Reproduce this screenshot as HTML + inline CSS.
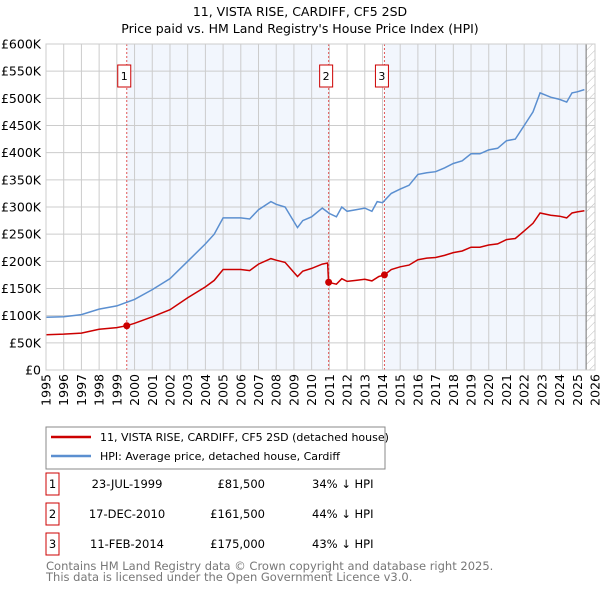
<!DOCTYPE html>
<html><head><meta charset="utf-8"><style>
body{margin:0;background:#fff;font-family:"Liberation Sans","DejaVu Sans",sans-serif;}
svg text{font-family:"DejaVu Sans","Liberation Sans",sans-serif;}
</style></head><body>
<svg id="chart" width="600" height="590" xmlns="http://www.w3.org/2000/svg">
<text x="300" y="16" text-anchor="middle" font-size="12.5">11, VISTA RISE, CARDIFF, CF5 2SD</text>
<text x="300" y="33" text-anchor="middle" font-size="12.5">Price paid vs. HM Land Registry's House Price Index (HPI)</text>
<g id="plot"></g>
<g>
<rect x="46" y="427" width="339" height="42" fill="#fff" stroke="#888"/>
<line x1="51" y1="437" x2="91" y2="437" stroke="#cc0000" stroke-width="2.5"/>
<text x="100" y="441" font-size="11">11, VISTA RISE, CARDIFF, CF5 2SD (detached house)</text>
<line x1="51" y1="456" x2="91" y2="456" stroke="#5b8fd0" stroke-width="2.5"/>
<text x="100" y="460" font-size="11">HPI: Average price, detached house, Cardiff</text>
</g>
<g id="table" font-size="11.5"></g>
<text x="46" y="570" font-size="11.5" fill="#777">Contains HM Land Registry data © Crown copyright and database right 2025.</text>
<text x="46" y="581" font-size="11.5" fill="#777">This data is licensed under the Open Government Licence v3.0.</text>
</svg>
<script>
const hpiYears=[1995,1996,1997,1998,1999,2000,2001,2002,2003,2004,2004.5,2005,2006,2006.5,2007,2007.7,2008,2008.5,2009.2,2009.5,2010,2010.6,2011,2011.4,2011.7,2012,2012.5,2013,2013.4,2013.7,2014,2014.5,2015,2015.5,2016,2016.5,2017,2017.5,2018,2018.5,2019,2019.5,2020,2020.5,2021,2021.5,2022,2022.5,2022.9,2023.5,2024,2024.4,2024.7,2025,2025.4];
const hpiValues=[97,98,102,112,118,130,148,168,200,232,250,280,280,278,295,310,305,300,262,275,282,298,288,282,300,292,295,298,292,310,308,325,333,340,360,363,365,372,380,385,398,398,405,408,422,425,450,475,510,502,498,493,510,512,516];
const redYears=[1995,1996,1997,1998,1999,1999.56,2000,2001,2002,2003,2004,2004.5,2005,2006,2006.5,2007,2007.7,2008,2008.5,2009.2,2009.5,2010,2010.6,2010.9,2010.96,2011.4,2011.7,2012,2012.5,2013,2013.4,2013.8,2014.11,2014.5,2015,2015.5,2016,2016.5,2017,2017.5,2018,2018.5,2019,2019.5,2020,2020.5,2021,2021.5,2022,2022.5,2022.9,2023.5,2024,2024.4,2024.7,2025,2025.4];
const redValues=[65,66,68,75,78,81.5,86,98,111,133,153,165,185,185,183,195,205,202,198,172,182,187,195,197,161.5,158,168,163,165,167,164,172,175,185,190,193,203,206,207,211,216,219,226,226,230,232,240,242,256,270,289,285,283,280,289,291,293];
const saleLabels=["1","2","3"];
const saleYears=[1999.56,2010.96,2014.11];
const saleValues=[81.5,161.5,175];
const saleDates=["23-JUL-1999","17-DEC-2010","11-FEB-2014"];
const salePrices=["£81,500","£161,500","£175,000"];
const saleHpi=["34% ↓ HPI","44% ↓ HPI","43% ↓ HPI"];
const yTicks=[0,50,100,150,200,250,300,350,400,450,500,550,600];
const yTickLabels=["£0","£50K","£100K","£150K","£200K","£250K","£300K","£350K","£400K","£450K","£500K","£550K","£600K"];
const xTicks=[1995,1996,1997,1998,1999,2000,2001,2002,2003,2004,2005,2006,2007,2008,2009,2010,2011,2012,2013,2014,2015,2016,2017,2018,2019,2020,2021,2022,2023,2024,2025,2026];

const L=46,R=595,T=44,B=370,dataEnd=2025.5;
const X=y=>L+(y-1995)/(2026-1995)*(R-L);
const Y=v=>B-v/600*(B-T);
const NS="http://www.w3.org/2000/svg";
const plot=document.getElementById('plot');
function mk(tag,attrs,parent){const e=document.createElementNS(NS,tag);for(const k in attrs)e.setAttribute(k,attrs[k]);(parent||plot).appendChild(e);return e;}
let e;
e=mk('rect',{x:X(saleYears[0]),y:T,width:X(saleYears[1])-X(saleYears[0]),height:B-T,fill:'#f2f6fd'});


e=mk('rect',{x:X(saleYears[2]),y:T,width:X(dataEnd)-X(saleYears[2]),height:B-T,fill:'#f2f6fd'});


const defs=mk('defs',{});
const pat=mk('pattern',{id:'hatch',width:6,height:6,patternUnits:'userSpaceOnUse',patternTransform:'rotate(45)'},defs);
mk('line',{x1:0,y1:0,x2:0,y2:6,stroke:'#bbb','stroke-width':1},pat);
e=mk('rect',{x:X(dataEnd),y:T,width:R-X(dataEnd),height:B-T,fill:'url(#hatch)'});


yTicks.forEach((v,i)=>{
 e=mk('line',{x1:L,x2:R,y1:Y(v),y2:Y(v),stroke:'#ccc'});
 
 
 e=mk('text',{x:L-5,y:Y(v)+4.5,'text-anchor':'end','font-size':12.5});e.textContent=yTickLabels[i];
 
 
});
xTicks.forEach(y=>{
 e=mk('line',{x1:X(y),x2:X(y),y1:T,y2:B,stroke:'#ccc'});
 
 
 e=mk('text',{x:0,y:0,'text-anchor':'end','font-size':12.5,transform:`translate(${X(y)+4.5},${B+4}) rotate(-90)`});e.textContent=y;
 
 
});
e=mk('line',{x1:X(dataEnd),x2:X(dataEnd),y1:T,y2:B,stroke:'#888','stroke-width':1.2});


saleYears.forEach((s,i)=>{
 e=mk('line',{x1:X(s),x2:X(s),y1:T,y2:B,stroke:'#e05555','stroke-dasharray':'2,2'});
 
 
 e=mk('rect',{x:X(s)-9,y:65,width:13,height:22,fill:'#fff',stroke:'#cc0000'});
 
 
 e=mk('text',{x:X(s)-2.5,y:80,'text-anchor':'middle','font-size':11});e.textContent=saleLabels[i];
 
 
});
const path=(xs,vs)=>xs.map((x,i)=>(i?'L':'M')+X(x).toFixed(1)+','+Y(vs[i]).toFixed(1)).join('');
e=mk('path',{d:path(hpiYears,hpiValues),fill:'none',stroke:'#5b8fd0','stroke-width':1.5});


e=mk('path',{d:path(redYears,redValues),fill:'none',stroke:'#cc0000','stroke-width':1.5});


saleYears.forEach((s,i)=>{
 e=mk('circle',{cx:X(s),cy:Y(saleValues[i]),r:3.5,fill:'#cc0000'});
 
 
});
e=mk('rect',{x:L,y:T,width:R-L,height:B-T,fill:'none',stroke:'#ccc'});


const tbl=document.getElementById('table');
const rowsY=[483,513,543];
saleLabels.forEach((n,i)=>{
 const y=rowsY[i];
 e=mk('rect',{x:46,y:y-10,width:13,height:22,fill:'#fff',stroke:'#cc0000'},tbl);
 
 
 e=mk('text',{x:52.5,y:y+5,'text-anchor':'middle'},tbl);e.textContent=n;
 
 
 e=mk('text',{x:127,y:y+5,'text-anchor':'middle'},tbl);e.textContent=saleDates[i];
 
 
 e=mk('text',{x:265,y:y+5,'text-anchor':'end'},tbl);e.textContent=salePrices[i];
 
 
 e=mk('text',{x:312,y:y+5},tbl);e.textContent=saleHpi[i];
 
 
});
</script>
</body></html>
